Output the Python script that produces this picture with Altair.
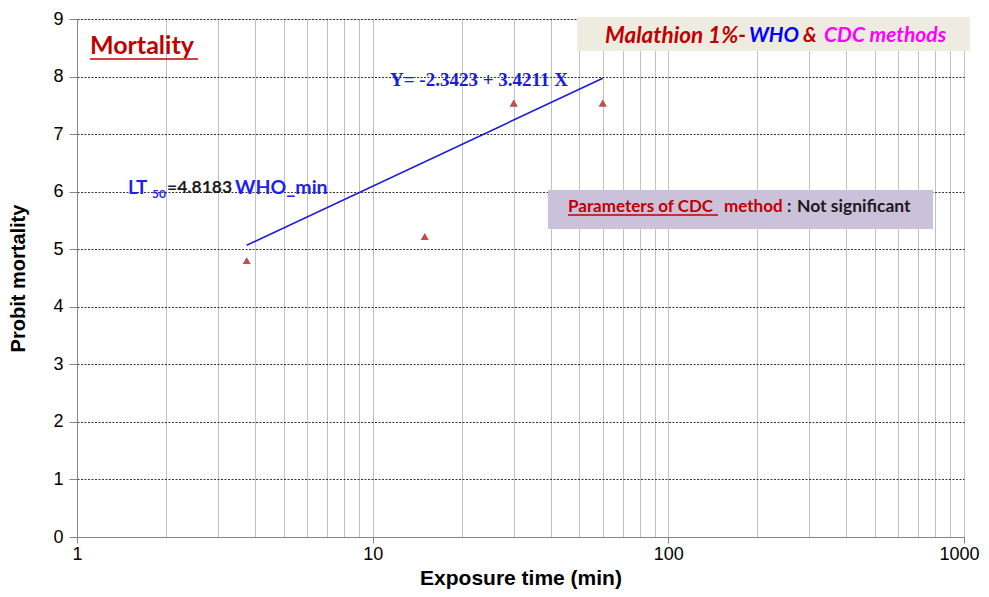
import altair as alt
import pandas as pd

# ---- data ----
time_min = [3.75, 15, 30, 60]
probit = [4.80, 5.22, 7.54, 7.54]

fit_time = [3.75, 60]
fit_probit = [5.07, 7.97]

x_ticks = [1, 2, 3, 4, 5, 6, 7, 8, 9,
           10, 20, 30, 40, 50, 60, 70, 80, 90,
           100, 200, 300, 400, 500, 600, 700, 800, 900, 1000]
y_ticks = [0, 1, 2, 3, 4, 5, 6, 7, 8, 9]

# annotation texts (positions in data units)
ann_bi_text = ["Malathion 1%-", "WHO", "&", "CDC methods"]
ann_bi_x = [61.1, 187.4, 285.5, 336.1]
ann_bi_y = [8.70, 8.70, 8.70, 8.70]
ann_bi_color = ["#c00000", "#0000ff", "#c00000", "#ff00ff"]
ann_bi_size = [22.5, 20.5, 20.5, 21]

ann_b_text = ["Mortality", "LT", "50", "=4.8183", "WHO_min",
              "Parameters of CDC", "method", ":", "Not significant"]
ann_b_x = [1.106, 1.487, 1.794, 2.016, 3.422, 45.78, 154.3, 251.9, 272.3]
ann_b_y = [8.53, 6.063, 5.96, 6.063, 6.063, 5.733, 5.733, 5.733, 5.733]
ann_b_color = ["#c00000", "#1f1ff0", "#1f1ff0", "#1a1a1a", "#1f1ff0",
               "#c00000", "#c00000", "#1a1a1a", "#1a1a1a"]
ann_b_size = [25, 19, 12, 17.5, 19.5, 17, 17, 17, 17.5]

eq_text = ["Y= -2.3423 + 3.4211 X"]
eq_x = [11.45]
eq_y = [7.94]

box_x = [49.1, 39.17]
box_x2 = [1047, 785.5]
box_y = [9.034, 6.029]
box_y2 = [8.443, 5.351]
box_fill = ["#eeece1", "#ccc1da"]

ul_x = [1.106, 45.78]
ul_x2 = [2.566, 147.2]
ul_y = [8.305, 5.594]

pts = pd.DataFrame({"t": time_min, "p": probit})
fit = pd.DataFrame({"t": fit_time, "p": fit_probit})
bi = pd.DataFrame({"x": ann_bi_x, "y": ann_bi_y, "text": ann_bi_text, "c": ann_bi_color,
                   "s": ann_bi_size})
bb = pd.DataFrame({"x": ann_b_x, "y": ann_b_y, "text": ann_b_text, "c": ann_b_color, "s": ann_b_size})
eq = pd.DataFrame({"x": eq_x, "y": eq_y, "text": eq_text})
boxes = pd.DataFrame({"x": box_x, "x2": box_x2, "y": box_y, "y2": box_y2, "f": box_fill})
ul = pd.DataFrame({"x": ul_x, "x2": ul_x2, "y": ul_y})

xscale = alt.Scale(type="log", domain=[1, 1000])
yscale = alt.Scale(domain=[0, 9])

major_test = ("datum.value == 1 || datum.value == 10 || datum.value == 100 || "
              "datum.value == 1000")
label_expr = "(" + major_test + ") ? format(datum.value, 'd') : ''"

x_axis = alt.Axis(values=x_ticks, labelExpr=label_expr, title="Exposure time (min)",
                  grid=True, gridColor="#c0c0c0", gridWidth=1,
                  ticks=True, tickSize=6, tickColor="#868686",
                  tickOpacity={"condition": {"test": major_test, "value": 1}, "value": 0},
                  domainColor="#868686", labelFont="Liberation Sans", labelFontSize=18,
                  labelOffset={"condition": {"test": "datum.value == 1000", "value": -5},
                               "value": 0},
                  labelColor="#000000", labelPadding=2, labelFlush=False,
                  titleFont="Liberation Sans", titleFontSize=21, titleFontWeight="bold",
                  titleColor="#000000", titlePadding=4)
y_axis = alt.Axis(values=y_ticks, format="d", title="Probit mortality", grid=True,
                  gridColor="#333333", gridDash=[2, 1.5], gridWidth=1, ticks=True, tickSize=8,
                  tickColor="#868686", domainColor="#868686", labelFont="Liberation Sans",
                  labelFontSize=18, labelColor="#000000", labelPadding=6,
                  titleFont="Liberation Sans", titleFontSize=20, titleFontWeight="bold",
                  titleColor="#000000", titlePadding=24)

base_pts = alt.Chart(pts).mark_point(shape="triangle-up", filled=True, size=60,
                                     color="#c0504d", opacity=1).encode(
    x=alt.X("t:Q", scale=xscale, axis=x_axis),
    y=alt.Y("p:Q", scale=yscale, axis=y_axis),
)

fit_line = alt.Chart(fit).mark_line(color="#1a1ad8", strokeWidth=1.6).encode(
    x=alt.X("t:Q", scale=xscale), y=alt.Y("p:Q", scale=yscale))

box_layer = alt.Chart(boxes).mark_rect(clip=False).encode(
    x=alt.X("x:Q", scale=xscale), x2="x2:Q",
    y=alt.Y("y:Q", scale=yscale), y2="y2:Q",
    fill=alt.Fill("f:N", scale=None))

bi_layer = alt.Chart(bi).mark_text(font="Lato", fontWeight="bold",
                                   fontStyle="italic", align="left", baseline="middle").encode(
    x=alt.X("x:Q", scale=xscale), y=alt.Y("y:Q", scale=yscale),
    text="text:N", color=alt.Color("c:N", scale=None), size=alt.Size("s:Q", scale=None))

bb_layer = alt.Chart(bb).mark_text(font="Lato", fontWeight="bold",
                                   align="left", baseline="middle").encode(
    x=alt.X("x:Q", scale=xscale), y=alt.Y("y:Q", scale=yscale),
    text="text:N", color=alt.Color("c:N", scale=None), size=alt.Size("s:Q", scale=None))

eq_layer = alt.Chart(eq).mark_text(font="Liberation Serif", fontSize=19, fontWeight="bold",
                                   color="#1a1ae0", align="left", baseline="middle").encode(
    x=alt.X("x:Q", scale=xscale), y=alt.Y("y:Q", scale=yscale), text="text:N")

ul_layer = alt.Chart(ul).mark_rule(color="#c00000", strokeWidth=1.5).encode(
    x=alt.X("x:Q", scale=xscale), x2="x2:Q", y=alt.Y("y:Q", scale=yscale))

chart = alt.layer(base_pts, box_layer, fit_line, bi_layer, bb_layer, eq_layer, ul_layer,
                  base_pts).properties(
    width=887, height=518,
    padding={"left": 69, "top": 11, "right": 16, "bottom": 52},
    autosize=alt.AutoSizeParams(type="none"),
).configure_view(stroke=None).configure(background="#ffffff")

chart.save("out.html", embed_options={"renderer": "svg", "actions": False})
